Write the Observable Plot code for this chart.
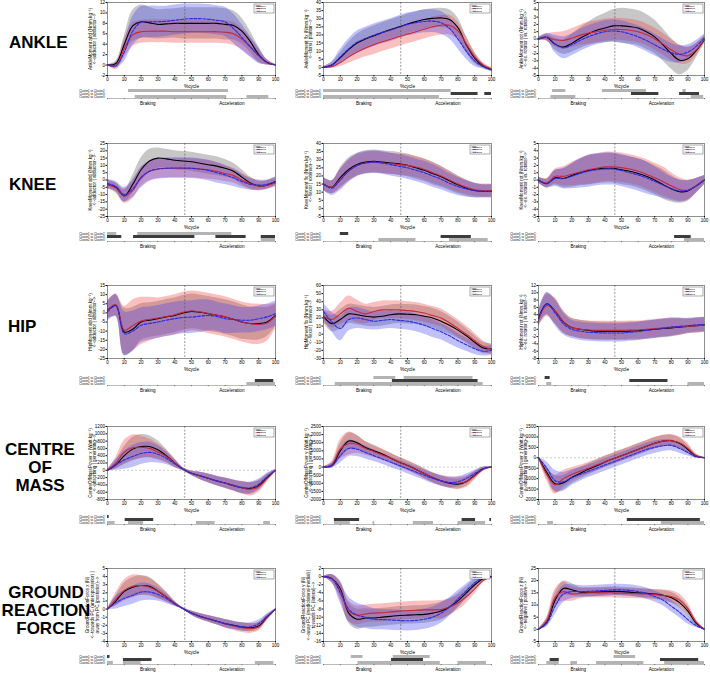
<!DOCTYPE html>
<html><head><meta charset="utf-8">
<script src="https://cdn.jsdelivr.net/npm/d3@7"></script>
<script src="https://cdn.jsdelivr.net/npm/@observablehq/plot@0.6"></script>
<style>
body{margin:0;background:#fff;font-family:"Liberation Sans",Arial,sans-serif;}
#root{position:relative;width:710px;height:673px;overflow:hidden;background:#fff;}
.abs{position:absolute;}
.rowlab{position:absolute;font-weight:bold;font-size:17px;line-height:18px;white-space:pre;color:#000;}
</style></head><body><div id="root"></div>
<script>
// ---------- shared categories ----------
const pct = [0,5,10,15,20,25,30,35,40,45,50,55,60,65,70,75,80,85,90,95,100];
const xTicks = [0,10,20,30,40,50,60,70,80,90,100];
const clusters = ["Cluster1","Cluster2","Cluster3"];
const comparisons = ["Cluster1 vs Cluster2","Cluster1 vs Cluster3","Cluster2 vs Cluster3"];
const rowLabels = ["ANKLE","KNEE","HIP","CENTRE\nOF\nMASS","GROUND\nREACTION\nFORCE"];
const phaseLabels = ["Braking","Acceleration"];
const phasePos = [24,74];
const phaseSplit = 46;

// ---------- ANKLE abd ----------
const ankleAbdTicks = [-2,0,2,4,6,8,10,12];
const ankleAbdLabel = "AnkleMoment abd (Nmm.kg\u207B\u00B9)\n<--adductor | abductor-->";
const ankleAbdM1 = [0,0.3,4,7.5,8.3,8.1,7.8,7.9,8.0,8.0,8.0,8.0,8.0,8.0,7.8,7.6,6.5,4.5,2,0.5,0];
const ankleAbdS1 = [0.1,0.5,1.5,3,3.2,3,2.8,2.8,2.8,3,3,3,3,3,3,2.8,2.5,2,1.5,0.5,0.1];
const ankleAbdM2 = [0,-0.2,3.2,5.8,6.4,6.5,6.5,6.5,6.4,6.4,6.4,6.4,6.4,6.4,6.3,6.0,5.0,3.5,1.8,0.5,0];
const ankleAbdS2 = [0.1,0.7,1.8,2.2,2.2,2.2,2.2,2.2,2.2,2.2,2.2,2.2,2.2,2.2,2.2,2.2,2.0,1.8,1.2,0.5,0.1];
const ankleAbdM3 = [0,-0.1,2.5,6.5,8.2,8.3,8.3,8.4,8.6,8.8,8.9,8.9,8.8,8.6,8.3,7.0,5.3,3.5,1.8,0.5,0];
const ankleAbdS3 = [0.1,0.5,1.8,2.8,3,3,3,2.9,2.9,2.9,2.8,2.8,2.8,2.8,2.8,2.8,2.5,2,1.5,0.5,0.1];
const ankleAbdSig = [[0,12.5,72,0],[2,16.5,71,0],[2,83,96,0]];

// ---------- ANKLE flx ----------
const ankleFlxTicks = [-5,0,5,10,15,20,25,30,35,40];
const ankleFlxLabel = "AnkleMoment flx (Nmm.kg\u207B\u00B9)\n<--dorsi | plantar-->";
const ankleFlxM1 = [0,1.5,6,11,15,17.5,19.5,21.5,23.3,25,26.8,28.2,29.5,30.2,30.5,29.5,24.5,14,5.7,0.8,-1.5];
const ankleFlxS1 = [0.5,1.5,3,4.5,5.5,6,6,6,6,6,6,6,6,6,6,6,6,5,3.5,1.5,1];
const ankleFlxM2 = [0,0.5,3,6.5,9.5,12,14,15.8,17.3,19,20.5,22,23.5,25,26,26,22.5,14.5,6.5,1.5,-1];
const ankleFlxS2 = [0.5,1.2,2.5,4,5,5.5,6,6,6,6,6,6,6,6,6,6,5.5,4.5,3,1.5,1];
const ankleFlxM3 = [0,1.5,6.5,11.5,15.5,17.8,19.8,21.5,23,24.8,26.5,27.5,28.3,28.5,27.5,24,17.5,10,4,0.5,-1.5];
const ankleFlxS3 = [0.5,2,4.5,6,7,7,7,7,7,7,7,7,7,7,7,6.5,6,5,3.5,1.5,1];
const ankleFlxSig = [[0,0,76,0],[1,76,92,1],[1,96,100,1],[2,0,69,0]];

// ---------- ANKLE rot ----------
const ankleRotTicks = [-5,-4,-3,-2,-1,0,1,2,3,4,5];
const ankleRotLabel = "AnkleMoment rot (Nmm.kg\u207B\u00B9)\n<--ex. rotator | in. rotator-->";
const ankleRotM1 = [0,0.2,-0.7,-1.1,-0.6,0.1,0.7,1.2,1.5,1.8,1.8,1.7,1.5,1,0.3,-0.8,-2,-2.9,-2.7,-1.6,-0.1];
const ankleRotS1 = [0.2,0.4,0.8,1,1.2,1.4,1.6,1.8,2,2.2,2.4,2.4,2.4,2.4,2.3,2.2,2.1,2,1.6,1,0.5];
const ankleRotM2 = [0,0.2,-0.1,-0.2,0.1,0.5,0.8,1,1.2,1.3,1.3,1.2,1,0.6,0,-0.7,-1.5,-2.1,-2.3,-1.5,0];
const ankleRotS2 = [0.2,0.5,1,1.2,1.3,1.4,1.5,1.5,1.5,1.5,1.5,1.5,1.5,1.5,1.5,1.5,1.4,1.3,1.1,0.8,0.5];
const ankleRotM3 = [0,0.3,-0.7,-1.2,-0.8,-0.2,0.3,0.7,1,1.1,1,0.7,0.3,-0.2,-0.8,-1.4,-1.9,-2.1,-1.8,-1,0.2];
const ankleRotS3 = [0.2,0.5,1.2,1.5,1.5,1.5,1.5,1.5,1.5,1.5,1.5,1.5,1.5,1.5,1.5,1.4,1.3,1.2,1,0.8,0.5];
const ankleRotSig = [[0,8.5,16.5,0],[0,38.5,65,0],[0,87,89,0],[1,56,72.5,1],[1,85,97,1],[2,7.5,22.5,0],[2,92,99.5,0]];

// ---------- KNEE abd ----------
const kneeAbdTicks = [-25,-20,-15,-10,-5,0,5,10,15,20,25];
const kneeAbdLabel = "KneeMoment abd (Nmm.kg\u207B\u00B9)\n<--adductor | abductor-->";
const kneeAbdM1 = [-3,-5,-11,-3,7,13,15,14.5,13.5,13,12.5,11.5,10.5,9.5,8,6,2,-2,-4,-3.5,-1];
const kneeAbdS1 = [3,3,4,6,8,8,7,6.5,6.5,6.5,6.5,6.5,6.5,6.5,6,5.5,5,4,3,3,3];
const kneeAbdM2 = [-3,-5.5,-11,-7,2,6,7.5,8,8,8,8,7.5,7,6,4.5,3,0,-2.5,-4,-3.5,-2];
const kneeAbdS2 = [3,3.5,5,6,6.5,6.5,6.5,6.5,6.5,6.5,6.5,6.5,6.5,6,5.5,5,4.5,4,3.5,3,3];
const kneeAbdM3 = [-2.5,-4.5,-10,-6,1.5,6,7.5,8,8.2,8.2,8,7.5,6.5,5,3.5,1.5,-1,-3,-3.5,-3,-1];
const kneeAbdS3 = [3,3.5,5,6,7,7,7,7,7,7,7,7,7,7,6.5,6,5,4,3.5,3,3];
const kneeAbdSig = [[0,0,5.5,0],[0,18,74,0],[1,0,8.5,1],[1,15.5,52,1],[1,64.5,82.5,1],[1,91.5,100,1],[2,91.5,100,0]];

// ---------- KNEE flx ----------
const kneeFlxTicks = [-5,0,5,10,15,20,25,30,35,40];
const kneeFlxLabel = "KneeMoment flx (Nmm.kg\u207B\u00B9)\n<--flexor | extensor-->";
const kneeFlxM1 = [15,13,19,24,27,28.5,29,28.5,28,27.5,26.5,25,23.5,21.5,19.5,17,14.5,12.5,11,10.5,10.5];
const kneeFlxS1 = [4,4,6,7,7,7,7,7,7,7,7,7,7,7,6.5,6,5.5,5,4.5,4,4];
const kneeFlxM2 = [15,13,18,23,26.5,28,28.5,28,27.5,27,26.5,25.5,24,22,20,17.5,15,13,11.5,11,11];
const kneeFlxS2 = [4,4,6,6.5,6.5,6.5,6.5,6.5,6.5,6.5,6.5,6.5,6.5,6.5,6,5.5,5,4.5,4,4,4];
const kneeFlxM3 = [15,12.5,17.5,23,26.5,28,28.5,28,27,26,25,23.5,22,20,18,15.5,13.5,12,11,10.5,10.5];
const kneeFlxS3 = [4,4.5,6.5,7,7,7,7,7,7,7,7,7,7,7,6.5,6,5.5,5,4.5,4,4];
const kneeFlxSig = [[0,10,15,1],[1,70,88,1],[2,33,55,0],[2,75,98,0]];

// ---------- KNEE rot ----------
const kneeRotTicks = [-5,-4,-3,-2,-1,0,1,2,3,4,5];
const kneeRotLabel = "KneeMoment rot (Nmm.kg\u207B\u00B9)\n<--ex. rotator | in. rotator-->";
const kneeRotM1 = [0,-0.5,0.3,0.2,0.6,1,1.3,1.5,1.6,1.6,1.4,1.2,0.9,0.5,0,-0.6,-1.2,-1.6,-1.5,-0.8,0];
const kneeRotS1 = [0.4,0.6,1,1.3,1.6,1.8,2,2,2,2,2,2,2,2,2,2,1.8,1.6,1.4,1,0.6];
const kneeRotM2 = [0,-0.4,0.5,0.5,0.8,1.1,1.4,1.6,1.8,1.8,1.7,1.5,1.2,0.8,0.3,-0.2,-0.8,-1.3,-1.4,-0.8,0];
const kneeRotS2 = [0.4,0.6,1,1.3,1.6,1.8,2,2,2,2,2,2,2,2,2,2,1.8,1.6,1.4,1,0.6];
const kneeRotM3 = [0,-0.5,0.2,0.2,0.5,0.9,1.2,1.4,1.5,1.5,1.3,1,0.7,0.3,-0.2,-0.7,-1.2,-1.5,-1.4,-0.8,0];
const kneeRotS3 = [0.4,0.6,1.1,1.4,1.7,2,2.2,2.2,2.2,2.2,2.2,2.2,2.2,2.2,2,1.8,1.6,1.5,1.3,1,0.6];
const kneeRotSig = [[1,82,92,1],[2,88,100,0]];

// ---------- HIP abd ----------
const hipAbdTicks = [-25,-20,-15,-10,-5,0,5,10,15];
const hipAbdLabel = "HipMoment abd (Nmm.kg\u207B\u00B9)\n<--adductor | abductor-->";
const hipAbdM1 = [1.5,4,-10.5,-9,-5,-4,-3.2,-2.2,-1.4,0,0.8,0.3,-0.5,-1.3,-2.3,-3.5,-5,-5.8,-5.9,-5,-1.4];
const hipAbdS1 = [5,6,13,12,10,9.5,9.5,9.5,9.5,9.5,9.5,9.5,9.5,9.5,9.5,9.5,9.5,9,9,8,6];
const hipAbdM2 = [1.5,4.5,-9.5,-7,-4.5,-3.5,-2.8,-2,-1,0.3,1,0.6,-0.3,-1.2,-2.2,-3.5,-5,-6,-6.3,-5.5,-1.8];
const hipAbdS2 = [5,6,13,14,13,12,11,11,11,11,11,11,11,11,11,11,11,11,11,10,7];
const hipAbdM3 = [0.5,4,-11.4,-10,-6.8,-5.8,-5,-4,-3.2,-2.5,-2.3,-1.8,-1.4,-2,-3.2,-3.6,-4,-4,-3.2,-2.2,-0.5];
const hipAbdS3 = [5,6,12,11,9.5,9,9,9,9,9,9,9,8.5,8,8,7.5,7,7,7,7,7];
const hipAbdSig = [[1,88,99,1],[2,83,100,0]];

// ---------- HIP flx ----------
const hipFlxTicks = [-30,-20,-10,0,10,20,30,40,50,60];
const hipFlxLabel = "HipMoment flx (Nmm.kg\u207B\u00B9)\n<--flexor | extensor-->";
const hipFlxM1 = [22,13,18,25,24,22,21,22,24,25,24.5,24,22,20,16,11,5,-2,-10,-17,-18];
const hipFlxS1 = [8,10,12,12,12,12,12,12,12,12,12,12,12,12,12,11,10,9,8,7,6];
const hipFlxM2 = [22,18,25,32,28,25,28,30,30,30,29,28,26,23,20,14,7,0,-8,-15,-19];
const hipFlxS2 = [8,10,13,15,14,12,11,11,11,11,11,11,11,11,11,11,11,10,9,7,6];
const hipFlxM3 = [28,15,7,18,20,18,16,17,18,17,16,14,11,7,3,-2,-8,-13,-18,-21,-20];
const hipFlxS3 = [10,12,15,14,13,12,11,11,11,11,11,11,11,11,10,10,9,8,7,6,6];
const hipFlxSig = [[0,30,43,0],[0,48,89,0],[1,41,92,1],[2,7,95,0]];

// ---------- HIP rot ----------
const hipRotTicks = [-8,-6,-4,-2,0,2,4,6,8,10,12];
const hipRotLabel = "HipMoment rot (Nmm.kg\u207B\u00B9)\n<--ex. rotator | in. rotator-->";
const hipRotM1 = [3,7,5,2,0.5,0,-0.3,-0.5,-0.6,-0.6,-0.6,-0.5,-0.4,-0.2,0,0.2,0.4,0.6,0.8,1,1.2];
const hipRotS1 = [2,3,3.5,3,2.5,2.5,2.5,2.5,2.5,2.5,2.5,2.5,2.5,2.5,2.5,2.5,2.5,2.3,2,2,2];
const hipRotM2 = [2.5,6.5,5,2,0.5,0,-0.2,-0.3,-0.3,-0.3,-0.3,-0.2,-0.2,0,0.2,0.4,0.6,0.7,0.8,1,1.2];
const hipRotS2 = [2,3,3.5,3,2.5,2.5,2.5,2.5,2.5,2.5,2.5,2.5,2.5,2.5,2.5,2.5,2.5,2.3,2,2,2];
const hipRotM3 = [3,7,4.5,1.5,0,-0.5,-0.8,-0.9,-1,-1,-1,-0.8,-0.6,-0.3,0,0.3,0.6,0.8,1,1.2,1.3];
const hipRotS3 = [2,3,3.5,3,2.5,2.5,2.5,2.5,2.5,2.5,2.5,2.5,2.5,2.5,2.5,2.5,2.5,2.3,2,2,2];
const hipRotSig = [[0,4,7,1],[1,55,78,1],[2,5,8,0],[2,90,100,0]];

// ---------- COM x ----------
const comXTicks = [-800,-600,-400,-200,0,200,400,600,800,1000,1200];
const comXLabel = "CentreOfMassPower x (Watt.kg\u207B\u00B9)\n<--absorbing | generating-->";
const comXM1 = [0,150,400,580,650,650,560,400,200,30,-80,-150,-220,-290,-350,-420,-480,-500,-420,-200,0];
const comXS1 = [20,120,250,320,330,300,250,180,120,40,60,100,120,130,140,150,160,160,140,90,20];
const comXM2 = [0,200,500,620,630,600,500,380,200,30,-80,-150,-220,-290,-350,-420,-480,-520,-450,-230,0];
const comXS2 = [20,150,320,350,300,260,220,170,110,40,60,100,120,130,140,150,170,180,160,100,20];
const comXM3 = [0,150,280,380,460,490,440,330,180,30,-80,-150,-220,-290,-350,-410,-470,-480,-380,-170,0];
const comXS3 = [20,150,250,300,300,280,240,170,110,40,60,100,120,130,140,150,160,160,140,90,20];
const comXSig = [[0,0,1,1],[1,10.5,27.5,1],[2,0,4.5,0],[2,12.5,21.5,0],[2,53,64,0],[2,93,97,0]];

// ---------- COM y ----------
const comYTicks = [-2000,-1500,-1000,-500,0,500,1000,1500,2000,2500];
const comYLabel = "CentreOfMassPower y (Watt.kg\u207B\u00B9)\n<--absorbing | generating-->";
const comYM1 = [0,100,1000,1600,1500,1200,1000,800,550,300,100,-150,-400,-650,-850,-1000,-1050,-900,-500,-100,0];
const comYS1 = [20,150,450,500,450,380,340,320,300,300,300,300,300,300,300,300,300,280,220,100,20];
const comYM2 = [0,150,1100,1450,1400,1150,950,750,550,300,80,-150,-400,-650,-850,-950,-1000,-900,-550,-150,0];
const comYS2 = [20,200,600,700,550,420,360,330,300,300,300,300,300,320,340,360,380,360,260,120,20];
const comYM3 = [0,80,700,1150,1100,900,700,500,300,100,-100,-300,-500,-700,-850,-950,-900,-700,-400,-100,0];
const comYS3 = [20,150,450,500,450,400,360,330,320,320,320,320,320,320,320,320,300,260,200,100,20];
const comYSig = [[1,6.5,21.5,1],[1,82.5,90.5,1],[1,99,100,1],[2,6.5,16,0],[2,29.5,30.5,0],[2,53.5,65.5,0],[2,80,96.5,0]];

// ---------- COM z ----------
const comZTicks = [-2000,-1500,-1000,-500,0,500,1000,1500];
const comZLabel = "CentreOfMassPower z (Watt.kg\u207B\u00B9)\n<--absorbing | generating-->";
const comZM1 = [0,-700,-1250,-1200,-950,-750,-550,-380,-200,-50,100,250,400,550,700,800,820,700,400,80,0];
const comZS1 = [20,250,400,350,300,280,270,270,270,270,270,270,270,270,270,270,270,250,200,80,20];
const comZM2 = [0,-800,-1300,-1000,-800,-650,-500,-350,-200,-50,100,250,400,550,700,800,820,720,450,100,0];
const comZS2 = [20,300,450,400,320,290,270,270,270,270,270,270,270,270,270,280,290,280,230,90,20];
const comZM3 = [0,-500,-1100,-1150,-950,-800,-650,-500,-350,-200,-50,100,250,400,500,580,600,450,250,50,0];
const comZS3 = [20,300,500,450,380,330,300,300,300,300,300,300,300,300,300,280,260,230,170,70,20];
const comZSig = [[1,53.5,97.5,1],[2,5.5,9,0],[2,74,100,0]];

// ---------- GRF x ----------
const grfXTicks = [-4,-3,-2,-1,0,1,2,3,4,5];
const grfXLabel = "GroundReactionForce x (N)\n<--towards PC (anteroposterior) |\naway from PC (posterior)-->";
const grfXM1 = [0,1,2.2,2.7,2.9,2.8,2.2,1.5,0.7,0.05,-0.5,-0.9,-1.2,-1.5,-1.8,-2.0,-2.2,-2.3,-2.1,-1.0,0];
const grfXS1 = [0.05,0.6,1,1.2,1.2,1.1,0.9,0.6,0.3,0.1,0.25,0.35,0.4,0.45,0.5,0.5,0.5,0.5,0.45,0.3,0.05];
const grfXM2 = [0,1.2,2.3,2.8,2.9,2.7,2.2,1.5,0.7,0.05,-0.5,-0.9,-1.2,-1.5,-1.8,-2.1,-2.3,-2.4,-2.2,-1.1,0];
const grfXS2 = [0.05,0.8,1.3,1.4,1.2,1.1,0.9,0.6,0.3,0.1,0.25,0.35,0.4,0.45,0.5,0.55,0.6,0.6,0.5,0.3,0.05];
const grfXM3 = [0,0.8,1.3,1.7,2.1,2.1,1.8,1.3,0.6,0.05,-0.5,-0.9,-1.2,-1.5,-1.8,-2.0,-2.2,-2.2,-1.8,-0.9,0];
const grfXS3 = [0.05,0.8,1,1.1,1.1,1,0.8,0.6,0.3,0.1,0.25,0.35,0.4,0.45,0.5,0.5,0.5,0.5,0.45,0.3,0.05];
const grfXSig = [[0,0,1.5,1],[1,9.5,26.5,1],[2,0,3.5,0],[2,9.5,20,0],[2,88,99,0]];

// ---------- GRF y ----------
const grfYTicks = [-16,-14,-12,-10,-8,-6,-4,-2,0,2];
const grfYLabel = "GroundReactionForce y (N)\n<--away PC (mediolateral-medial) |\ntowards PC (lateral)-->";
const grfYM1 = [0,-0.5,-3,-9,-10.5,-10.2,-10.2,-10,-9.8,-9.6,-9.5,-9.4,-9.3,-9,-8.5,-7.5,-6,-4,-2,-0.5,0];
const grfYS1 = [0.1,1,2,2.5,2.5,2.3,2.2,2.2,2.2,2.2,2.2,2.2,2.2,2.2,2.2,2,1.8,1.5,1.2,0.6,0.1];
const grfYM2 = [0,-0.5,-3.5,-8.5,-9.5,-9.2,-9,-8.9,-8.7,-8.5,-8.4,-8.3,-8.2,-8.2,-8.1,-7.5,-6.5,-5,-3,-1,0];
const grfYS2 = [0.1,1,2.2,2.5,2.3,2.2,2.2,2.2,2.2,2.2,2.2,2.2,2.2,2.2,2.2,2,1.8,1.6,1.3,0.6,0.1];
const grfYM3 = [0,-0.5,-4,-8,-9.5,-10,-10.5,-10.6,-10.7,-10.8,-10.9,-10.8,-10.5,-10,-9,-7.5,-5.5,-3.5,-1.5,-0.3,0];
const grfYS3 = [0.1,1,2.5,3,3,2.8,2.6,2.5,2.5,2.5,2.5,2.5,2.5,2.5,2.5,2.3,2,1.6,1.2,0.6,0.1];
const grfYSig = [[0,16.5,23.5,0],[0,41.5,63.5,0],[1,40.5,59.5,1],[2,20.5,69.5,0],[2,80,97,0]];

// ---------- GRF z ----------
const grfZTicks = [-5,0,5,10,15,20,25];
const grfZLabel = "GroundReactionForce z (N)\n<--negative | positive-->";
const grfZM1 = [0,3,12,16.8,16.3,15.3,15.2,15.3,15.5,15.6,15.5,15.3,15,14.8,14.5,14,13,11,7.5,2.5,0];
const grfZS1 = [0.1,1.5,3,3,2.5,1.8,1.8,1.8,1.8,1.8,1.8,1.8,1.8,1.8,1.8,2,2.2,2.2,2,1,0.1];
const grfZM2 = [0,3.5,13,15.5,14.5,14.8,15,15,15,15,14.8,14.7,14.6,14.5,14.3,14,13.5,12,8.5,3,0];
const grfZS2 = [0.1,1.5,3.5,4,3,2.2,2,2,2,2,2,2,2,2,2,2.2,2.4,2.5,2.2,1,0.1];
const grfZM3 = [0,2.5,9.5,14.5,15.5,15.5,15.6,15.8,16,16.2,16.2,16,15.5,14.8,13.5,12,9.5,7,4,1.5,0];
const grfZS3 = [0.1,1.5,3.5,3.5,2.8,2.5,2.3,2.3,2.3,2.3,2.3,2.3,2.3,2.3,2.3,2.3,2.3,2.2,1.8,0.8,0.1];
const grfZSig = [[0,45.5,58.5,0],[1,7,12.5,1],[1,73.5,96.5,1],[2,5,12.5,0],[2,19.5,23.5,0],[2,35,63.5,0],[2,76,100,0]];

// ---------- panel table built from the arrays ----------
const panels = [
  {row:0,col:0,ticks:ankleAbdTicks,label:ankleAbdLabel,means:[ankleAbdM1,ankleAbdM2,ankleAbdM3],sds:[ankleAbdS1,ankleAbdS2,ankleAbdS3],sig:ankleAbdSig},
  {row:0,col:1,ticks:ankleFlxTicks,label:ankleFlxLabel,means:[ankleFlxM1,ankleFlxM2,ankleFlxM3],sds:[ankleFlxS1,ankleFlxS2,ankleFlxS3],sig:ankleFlxSig},
  {row:0,col:2,ticks:ankleRotTicks,label:ankleRotLabel,means:[ankleRotM1,ankleRotM2,ankleRotM3],sds:[ankleRotS1,ankleRotS2,ankleRotS3],sig:ankleRotSig},
  {row:1,col:0,ticks:kneeAbdTicks,label:kneeAbdLabel,means:[kneeAbdM1,kneeAbdM2,kneeAbdM3],sds:[kneeAbdS1,kneeAbdS2,kneeAbdS3],sig:kneeAbdSig},
  {row:1,col:1,ticks:kneeFlxTicks,label:kneeFlxLabel,means:[kneeFlxM1,kneeFlxM2,kneeFlxM3],sds:[kneeFlxS1,kneeFlxS2,kneeFlxS3],sig:kneeFlxSig},
  {row:1,col:2,ticks:kneeRotTicks,label:kneeRotLabel,means:[kneeRotM1,kneeRotM2,kneeRotM3],sds:[kneeRotS1,kneeRotS2,kneeRotS3],sig:kneeRotSig},
  {row:2,col:0,ticks:hipAbdTicks,label:hipAbdLabel,means:[hipAbdM1,hipAbdM2,hipAbdM3],sds:[hipAbdS1,hipAbdS2,hipAbdS3],sig:hipAbdSig},
  {row:2,col:1,ticks:hipFlxTicks,label:hipFlxLabel,means:[hipFlxM1,hipFlxM2,hipFlxM3],sds:[hipFlxS1,hipFlxS2,hipFlxS3],sig:hipFlxSig},
  {row:2,col:2,ticks:hipRotTicks,label:hipRotLabel,means:[hipRotM1,hipRotM2,hipRotM3],sds:[hipRotS1,hipRotS2,hipRotS3],sig:hipRotSig},
  {row:3,col:0,ticks:comXTicks,label:comXLabel,means:[comXM1,comXM2,comXM3],sds:[comXS1,comXS2,comXS3],sig:comXSig,zero:true},
  {row:3,col:1,ticks:comYTicks,label:comYLabel,means:[comYM1,comYM2,comYM3],sds:[comYS1,comYS2,comYS3],sig:comYSig,zero:true},
  {row:3,col:2,ticks:comZTicks,label:comZLabel,means:[comZM1,comZM2,comZM3],sds:[comZS1,comZS2,comZS3],sig:comZSig,zero:true},
  {row:4,col:0,ticks:grfXTicks,label:grfXLabel,means:[grfXM1,grfXM2,grfXM3],sds:[grfXS1,grfXS2,grfXS3],sig:grfXSig},
  {row:4,col:1,ticks:grfYTicks,label:grfYLabel,means:[grfYM1,grfYM2,grfYM3],sds:[grfYS1,grfYS2,grfYS3],sig:grfYSig},
  {row:4,col:2,ticks:grfZTicks,label:grfZLabel,means:[grfZM1,grfZM2,grfZM3],sds:[grfZS1,grfZS2,grfZS3],sig:grfZSig}
];

// ---------- layout & style ----------
const colLeft = [107,323,538];
const colWidth = [168,168,166];
const rowTop = [2,143,285,426,568];
const plotH = 73;
const stripTop = [89,232,376,515,655];
const stripH = 9;
const bandFill = ["#7a7a7a","#f03c3c","#3c3cf0"];
const bandOpacity = [0.42,0.32,0.32];
const lineColor = ["#000000","#c8283c","#2a2ae0"];
const FONT = "'Liberation Sans', Arial, Helvetica, sans-serif";
const fmt = d => String(d);
const root = document.getElementById("root");

function place(el, left, top) {
  const d = document.createElement("div");
  d.className = "abs"; d.style.left = left + "px"; d.style.top = top + "px";
  d.appendChild(el); root.appendChild(d);
}

function drawPanel(p) {
  const ml = 34, mr = 4, mt = 3, mb = 16;
  const W = colWidth[p.col];
  const table = [];
  clusters.forEach((c, k) => pct.forEach((x, i) => table.push({
    x, k, mean: p.means[k][i], lo: p.means[k][i] - p.sds[k][i], hi: p.means[k][i] + p.sds[k][i]
  })));
  const marks = [];
  [0,1,2].forEach(k => marks.push(Plot.areaY(table.filter(d => d.k === k),
    {x: "x", y1: "lo", y2: "hi", fill: bandFill[k], fillOpacity: bandOpacity[k], curve: "catmull-rom"})));
  if (p.zero) marks.push(Plot.ruleY([0], {stroke: "#9a9a9a", strokeDasharray: "2,2", strokeWidth: 0.5}));
  marks.push(Plot.ruleX([phaseSplit], {stroke: "#555", strokeDasharray: "2,1.5", strokeWidth: 0.6}));
  [0,1,2].forEach(k => marks.push(Plot.line(table.filter(d => d.k === k), Object.assign(
    {x: "x", y: "mean", stroke: lineColor[k], strokeWidth: 1.1, curve: "catmull-rom"},
    k === 2 ? {strokeDasharray: "3,1.5"} : {}))));
  marks.push(
    Plot.frame({stroke: "#444", strokeWidth: 0.6}),
    Plot.axisX({ticks: xTicks, tickSize: 1.5, tickPadding: 1, fontSize: 4.6, label: null, tickFormat: fmt}),
    Plot.axisY({ticks: p.ticks, tickSize: 1.5, tickPadding: 1, fontSize: 4.6, label: null, tickFormat: fmt}),
    Plot.text([p.label], {frameAnchor: "left", rotate: -90, textAnchor: "middle", dx: -15, fontSize: 4.6, lineHeight: 1.05}),
    Plot.text(["%cycle"], {frameAnchor: "bottom", lineAnchor: "middle", dy: 11, fontSize: 4.8})
  );
  const svg = Plot.plot({
    width: W + ml + mr, height: plotH + mt + mb,
    marginLeft: ml, marginRight: mr, marginTop: mt, marginBottom: mb,
    x: {domain: [0, 100], label: null},
    y: {domain: [p.ticks[0], p.ticks[p.ticks.length - 1]], label: null},
    style: {background: "transparent", fontFamily: FONT, overflow: "visible", maxWidth: "none"},
    marks
  });
  // legend box (top-right of the frame)
  const g = d3.select(svg).append("g").attr("transform", `translate(${ml + W - 21},${mt + 2})`);
  g.append("rect").attr("width", 20).attr("height", 9).attr("fill", "white").attr("stroke", "#333").attr("stroke-width", 0.4);
  clusters.forEach((c, k) => {
    const yy = 2 + k * 2.6;
    const ln = g.append("line").attr("x1", 1.5).attr("x2", 6.5).attr("y1", yy).attr("y2", yy)
      .attr("stroke", lineColor[k]).attr("stroke-width", 0.7);
    if (k === 2) ln.attr("stroke-dasharray", "1.2,0.6");
    g.append("text").attr("x", 7.5).attr("y", yy).attr("dy", "0.35em").attr("font-size", 2.4)
      .attr("font-family", FONT).attr("fill", "#000").text(c);
  });
  place(svg, colLeft[p.col] - ml, rowTop[p.row] - mt);
}

function drawStrip(p) {
  const ml = 34, mr = 4, mt = 0, mb = 11;
  const W = colWidth[p.col];
  const data = p.sig.map(s => ({comp: comparisons[s[0]], x1: s[1], x2: s[2], dark: s[3] === 1}));
  const svg = Plot.plot({
    width: W + ml + mr, height: stripH + mt + mb,
    marginLeft: ml, marginRight: mr, marginTop: mt, marginBottom: mb,
    x: {domain: [0, 100], label: null},
    y: {domain: comparisons, paddingInner: 0.12, paddingOuter: 0.04, label: null},
    style: {background: "transparent", fontFamily: FONT, overflow: "visible", maxWidth: "none", color: "#000"},
    marks: [
      Plot.barX(data.filter(d => !d.dark), {x1: "x1", x2: "x2", y: "comp", fill: "#b3b3b3"}),
      Plot.barX(data.filter(d => d.dark), {x1: "x1", x2: "x2", y: "comp", fill: "#3c3c3c"}),
      Plot.frame({anchor: "bottom", stroke: "#777", strokeWidth: 0.5}),
      Plot.axisX({ticks: xTicks, tickSize: 1.2, tickFormat: () => "", label: null, stroke: "#777"}),
      Plot.axisY({tickSize: 0, tickPadding: 1.5, fontSize: 2.8, label: null, fill: "#000", tickFormat: d => d + " :"}),
      Plot.text(phaseLabels, {x: (d, i) => phasePos[i], frameAnchor: "bottom", lineAnchor: "middle", dy: 4.6, fontSize: 4.6})
    ]
  });
  place(svg, colLeft[p.col] - ml, stripTop[p.row]);
}

panels.forEach(p => { drawPanel(p); drawStrip(p); });

// row labels
const rowLabelPos = [[9,34],[9,176],[8,318],[40,441],[46,584]];
rowLabels.forEach((t, i) => {
  const d = document.createElement("div");
  d.className = "rowlab";
  d.textContent = t;
  const multi = t.includes("\n");
  d.style.top = rowLabelPos[i][1] + "px";
  if (multi) { d.style.left = (rowLabelPos[i][0] - 50) + "px"; d.style.width = "100px"; d.style.textAlign = "center"; }
  else { d.style.left = rowLabelPos[i][0] + "px"; }
  root.appendChild(d);
});
</script></body></html>
